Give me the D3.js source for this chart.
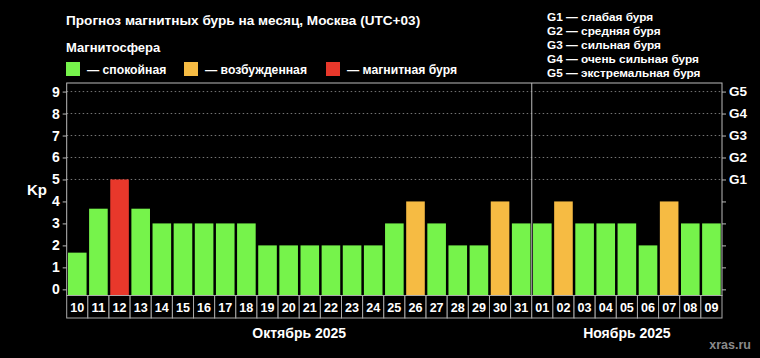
<!DOCTYPE html>
<html><head><meta charset="utf-8">
<script src="https://cdn.jsdelivr.net/npm/d3@7/dist/d3.min.js"></script>
<style>
html,body{margin:0;padding:0;background:#000;}
svg{display:block;}
text{font-family:"Liberation Sans",Arial,sans-serif;font-weight:bold;fill:#fff;}
</style></head><body>
<script>
const days = ["10","11","12","13","14","15","16","17","18","19","20","21","22","23","24","25","26","27","28","29","30","31","01","02","03","04","05","06","07","08","09"];
const kp = [1.67,3.67,5,3.67,3,3,3,3,3,2,2,2,2,2,2,3,4,3,2,2,4,3,3,4,3,3,3,2,4,3,3];
const months = [{name:"Октябрь 2025", from:0, to:22},{name:"Ноябрь 2025", from:22, to:31}];
const leftTicks = [0,1,2,3,4,5,6,7,8,9];
const gLevels = [{v:5,l:"G1"},{v:6,l:"G2"},{v:7,l:"G3"},{v:8,l:"G4"},{v:9,l:"G5"}];
const legendItems = [{key:"quiet",label:"— спокойная"},{key:"active",label:"— возбужденная"},{key:"storm",label:"— магнитная буря"}];
const gLegend = ["G1 — слабая буря","G2 — средняя буря","G3 — сильная буря","G4 — очень сильная буря","G5 — экстремальная буря"];
const colors = {quiet:"#76f34b", active:"#f6bb43", storm:"#e8382b"};
function cat(v){ return v>=5 ? "storm" : (v>=4 ? "active" : "quiet"); }

const W=760,H=358;
const L=66.7,R=722,T=83,B=295.5;
const svg=d3.select("body").append("svg").attr("width",W).attr("height",H);
svg.append("rect").attr("width",W).attr("height",H).attr("fill","#000");

const x=d3.scaleBand().domain(d3.range(days.length)).range([L,R]).paddingInner(0.12).paddingOuter(0.06);
const xc=d3.scaleBand().domain(d3.range(days.length)).range([L,R]).padding(0);
const y=d3.scaleLinear().domain([-0.28,9.39]).range([B,T]);

// grid
svg.append("g").selectAll("line").data(gLevels).join("line")
  .attr("x1",L).attr("x2",R).attr("y1",d=>y(d.v)).attr("y2",d=>y(d.v))
  .attr("stroke","#777").attr("stroke-width",1).attr("stroke-dasharray","1.5,2.5");

// bars
svg.append("g").selectAll("rect").data(kp).join("rect")
  .attr("x",(d,i)=>x(i)).attr("width",x.bandwidth())
  .attr("y",d=>y(d)).attr("height",d=>B-y(d))
  .attr("fill",d=>colors[cat(d)]);

// frame
svg.append("rect").attr("x",L).attr("y",T).attr("width",R-L).attr("height",B-T)
  .attr("fill","none").attr("stroke","#bbb").attr("stroke-width",1);
// month separator
svg.append("line").attr("x1",xc(22)).attr("x2",xc(22)).attr("y1",T).attr("y2",B).attr("stroke","#bbb").attr("stroke-width",1);

// left axis
const la=svg.append("g").attr("transform",`translate(${L},0)`)
  .call(d3.axisLeft(y).tickValues(leftTicks).tickSize(4).tickPadding(3).tickFormat(d3.format("d")));
la.select(".domain").remove();
la.selectAll("line").attr("stroke","#bbb");
la.selectAll("text").attr("font-size",14).attr("fill","#fff");

// right axis
const ra=svg.append("g").attr("transform",`translate(${R},0)`)
  .call(d3.axisRight(y).tickValues(leftTicks).tickSize(4).tickPadding(3)
  .tickFormat(d=>{const g=gLevels.find(e=>e.v===d);return g?g.l:"";}));
ra.select(".domain").remove();
ra.selectAll("line").attr("stroke","#bbb");
ra.selectAll("text").attr("font-size",13.5).attr("fill","#fff");

svg.append("text").attr("x",27).attr("y",195).attr("font-size",15).text("Kp");

// date boxes
const db=svg.append("g");
db.selectAll("rect").data(days).join("rect")
  .attr("x",(d,i)=>xc(i)).attr("width",xc.bandwidth()).attr("y",B).attr("height",318-B)
  .attr("fill","#000").attr("stroke","#aaa").attr("stroke-width",1);
db.selectAll("text").data(days).join("text")
  .attr("x",(d,i)=>xc(i)+xc.bandwidth()/2).attr("y",312).attr("text-anchor","middle")
  .attr("font-size",12.5).attr("textLength",14).attr("lengthAdjust","spacingAndGlyphs").text(d=>d);

// months
svg.append("g").selectAll("text").data(months).join("text")
  .attr("x",d=>(xc(d.from)+ (d.to<days.length?xc(d.to):R))/2).attr("y",338)
  .attr("text-anchor","middle").attr("font-size",14).text(d=>d.name);

// title
svg.append("text").attr("x",66).attr("y",25).attr("font-size",13.6)
  .text("Прогноз магнитных бурь на месяц, Москва (UTC+03)");
svg.append("text").attr("x",66).attr("y",52).attr("font-size",13)
  .text("Магнитосфера");

// legend
const lgX=[66,184,326];
const lg=svg.append("g").selectAll("g").data(legendItems).join("g")
  .attr("transform",(d,i)=>`translate(${lgX[i]},62)`);
lg.append("rect").attr("width",14).attr("height",14).attr("fill",d=>colors[d.key]);
lg.append("text").attr("x",21).attr("y",12).attr("font-size",12.2).text(d=>d.label);

// G legend
svg.append("g").selectAll("text").data(gLegend).join("text")
  .attr("x",547).attr("y",(d,i)=>21+i*14).attr("font-size",11.8).text(d=>d);

// watermark
svg.append("text").attr("x",751).attr("y",349).attr("text-anchor","end").attr("font-size",12.5)
  .style("fill","#8a8a8a").text("xras.ru");
</script>
</body></html>
